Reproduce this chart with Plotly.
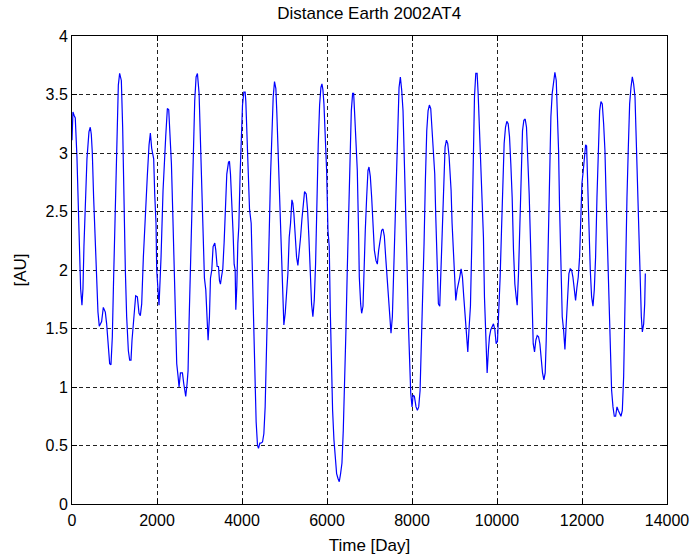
import plotly.graph_objects as go

days = [0, 22, 50, 77, 116, 140, 179, 203, 234, 258, 281, 313, 352, 399, 430, 454, 478, 509, 540, 572,
        611, 642, 697, 737, 784, 815, 847, 886, 917, 949, 980, 1019, 1059, 1090, 1121, 1161, 1192, 1223, 1255, 1286,
        1326, 1357, 1388, 1412, 1451, 1498, 1538, 1577, 1608, 1640, 1679, 1726, 1773, 1813, 1844, 1875, 1922, 1946, 1977, 1993,
        2024, 2048, 2095, 2142, 2205, 2244, 2276, 2299, 2339, 2370, 2401, 2433, 2464, 2496, 2519, 2551, 2598, 2629, 2676, 2708,
        2731, 2755, 2794, 2826, 2857, 2888, 2920, 2951, 2990, 3022, 3053, 3085, 3116, 3148, 3179, 3202, 3234, 3258, 3289, 3320,
        3360, 3383, 3415, 3446, 3470, 3493, 3517, 3548, 3580, 3611, 3642, 3682, 3705, 3729, 3760, 3791, 3815, 3839, 3854, 3878,
        3902, 3925, 3956, 3988, 4012, 4043, 4074, 4090, 4114, 4145, 4177, 4216, 4239, 4271, 4302, 4333, 4365, 4388, 4420, 4443,
        4483, 4514, 4545, 4577, 4608, 4640, 4671, 4703, 4734, 4765, 4797, 4820, 4852, 4883, 4922, 4954, 4985, 5017, 5048, 5080,
        5111, 5142, 5174, 5197, 5221, 5252, 5284, 5315, 5346, 5378, 5409, 5441, 5472, 5511, 5543, 5574, 5606, 5637, 5668, 5700,
        5731, 5763, 5794, 5826, 5857, 5881, 5904, 5928, 5959, 5991, 6022, 6053, 6077, 6101, 6132, 6163, 6195, 6226, 6257, 6289,
        6320, 6352, 6383, 6415, 6446, 6477, 6509, 6540, 6572, 6603, 6627, 6650, 6682, 6713, 6745, 6760, 6792, 6815, 6847, 6870,
        6901, 6933, 6964, 6988, 7019, 7051, 7082, 7114, 7153, 7184, 7216, 7247, 7286, 7318, 7349, 7381, 7412, 7443, 7475, 7506,
        7538, 7569, 7600, 7632, 7663, 7695, 7726, 7757, 7789, 7820, 7852, 7883, 7915, 7938, 7970, 8001, 8025, 8056, 8095, 8127,
        8158, 8190, 8221, 8252, 8284, 8315, 8347, 8378, 8409, 8441, 8472, 8504, 8535, 8559, 8590, 8621, 8653, 8684, 8716, 8747,
        8778, 8810, 8841, 8873, 8904, 8920, 8943, 8967, 8983, 8998, 9030, 9061, 9093, 9124, 9155, 9187, 9218, 9250, 9281, 9313,
        9344, 9375, 9407, 9438, 9470, 9501, 9532, 9556, 9587, 9619, 9650, 9681, 9705, 9737, 9768, 9799, 9823, 9854, 9886, 9917,
        9949, 9980, 10011, 10043, 10074, 10106, 10137, 10168, 10200, 10231, 10263, 10294, 10325, 10357, 10388, 10420, 10451, 10475, 10506, 10538,
        10569, 10600, 10632, 10663, 10694, 10726, 10757, 10789, 10820, 10852, 10883, 10914, 10946, 10977, 11009, 11040, 11071, 11103, 11134, 11158,
        11189, 11213, 11236, 11268, 11299, 11331, 11362, 11394, 11425, 11449, 11472, 11503, 11535, 11566, 11598, 11629, 11661, 11692, 11723, 11755,
        11786, 11818, 11849, 11880, 11912, 11943, 11967, 11998, 12030, 12053, 12085, 12108, 12132, 12163, 12195, 12226, 12258, 12289, 12320, 12352,
        12383, 12415, 12446, 12477, 12509, 12540, 12571, 12603, 12634, 12666, 12697, 12729, 12760, 12791, 12823, 12854, 12886, 12917, 12949, 12980,
        13003, 13027, 13058, 13090, 13121, 13152, 13184, 13215, 13247, 13270, 13302, 13333, 13365, 13396, 13420, 13451, 13475, 13490]

distance_au = [3.11, 3.35, 3.32, 3.30, 2.97, 2.60, 2.20, 1.84, 1.70, 1.84, 2.20, 2.60, 2.95, 3.18, 3.22, 3.16, 3.00, 2.62, 2.27, 1.94,
               1.64, 1.52, 1.56, 1.68, 1.64, 1.54, 1.39, 1.20, 1.19, 1.43, 1.94, 2.62, 3.24, 3.58, 3.68, 3.62, 3.22, 2.55, 2.00, 1.60,
               1.31, 1.23, 1.23, 1.40, 1.60, 1.78, 1.77, 1.63, 1.61, 1.71, 2.11, 2.50, 2.81, 3.07, 3.17, 3.04, 2.95, 2.65, 2.40, 2.00,
               1.80, 1.70, 2.11, 2.68, 3.14, 3.38, 3.37, 3.22, 2.91, 2.50, 2.10, 1.69, 1.20, 1.09, 1.00, 1.12, 1.12, 1.03, 0.92, 1.03,
               1.14, 1.56, 2.08, 2.60, 3.08, 3.45, 3.65, 3.68, 3.51, 3.14, 2.78, 2.31, 1.93, 1.83, 1.54, 1.40, 1.60, 1.93, 2.00, 2.20,
               2.23, 2.17, 2.03, 2.03, 1.91, 1.88, 1.94, 2.01, 2.24, 2.51, 2.82, 2.92, 2.93, 2.82, 2.62, 2.31, 2.05, 2.00, 1.66, 1.86,
               2.23, 2.37, 2.82, 3.19, 3.41, 3.52, 3.52, 3.44, 3.22, 2.91, 2.52, 2.40, 2.06, 1.41, 0.97, 0.70, 0.50, 0.475, 0.52, 0.52,
               0.53, 0.60, 0.83, 1.26, 1.71, 2.31, 2.80, 3.21, 3.48, 3.61, 3.55, 3.34, 2.99, 2.54, 2.08, 1.71, 1.53, 1.63, 1.77, 1.97,
               2.28, 2.40, 2.60, 2.57, 2.48, 2.28, 2.11, 2.04, 2.14, 2.28, 2.43, 2.57, 2.67, 2.65, 2.51, 2.28, 1.94, 1.71, 1.60, 1.74,
               2.05, 2.62, 3.08, 3.41, 3.56, 3.59, 3.54, 3.42, 3.19, 2.85, 2.34, 2.20, 1.66, 1.20, 0.80, 0.55, 0.35, 0.26, 0.22, 0.19,
               0.26, 0.35, 0.63, 1.00, 1.49, 2.00, 2.51, 2.97, 3.36, 3.51, 3.51, 3.34, 3.14, 2.85, 2.28, 1.94, 1.71, 1.63, 1.69, 2.05,
               2.34, 2.62, 2.85, 2.88, 2.80, 2.62, 2.37, 2.17, 2.08, 2.05, 2.17, 2.25, 2.34, 2.35, 2.29, 2.11, 1.94, 1.71, 1.60, 1.46,
               1.60, 2.00, 2.40, 2.91, 3.31, 3.56, 3.65, 3.54, 3.36, 2.99, 2.57, 2.05, 1.54, 1.20, 0.95, 0.83, 0.93, 0.92, 0.83, 0.80,
               0.83, 0.97, 1.34, 1.77, 2.23, 2.77, 3.19, 3.36, 3.41, 3.38, 3.22, 2.99, 2.82, 2.46, 2.05, 1.71, 1.69, 2.03, 2.34, 2.71,
               3.05, 3.11, 3.08, 2.97, 2.80, 2.68, 2.40, 2.20, 2.08, 1.91, 1.74, 1.83, 1.88, 1.94, 2.01, 1.94, 1.77, 1.63, 1.49, 1.30,
               1.51, 1.69, 2.23, 2.88, 3.48, 3.68, 3.68, 3.51, 3.22, 2.88, 2.62, 2.28, 1.77, 1.32, 1.12, 1.32, 1.43, 1.49, 1.51, 1.54,
               1.49, 1.37, 1.39, 1.63, 1.94, 2.34, 2.77, 3.08, 3.22, 3.27, 3.25, 3.14, 2.91, 2.62, 2.17, 1.88, 1.77, 1.70, 1.97, 2.40,
               2.80, 3.19, 3.28, 3.29, 3.22, 2.99, 2.65, 2.23, 1.71, 1.37, 1.30, 1.40, 1.44, 1.43, 1.37, 1.20, 1.12, 1.06, 1.12, 1.40,
               1.88, 2.40, 2.85, 3.31, 3.51, 3.62, 3.69, 3.62, 3.36, 3.02, 2.54, 2.05, 1.60, 1.49, 1.32, 1.54, 1.80, 1.97, 2.01, 2.00,
               1.94, 1.80, 1.74, 1.85, 1.94, 2.11, 2.40, 2.74, 2.85, 2.97, 3.07, 3.06, 2.74, 2.28, 2.00, 1.77, 1.69, 1.83, 2.11, 2.62,
               3.02, 3.36, 3.44, 3.42, 3.25, 3.02, 2.57, 2.11, 1.71, 1.26, 0.97, 0.83, 0.75, 0.75, 0.83, 0.80, 0.78, 0.75, 0.80, 1.09,
               1.54, 2.08, 2.62, 3.05, 3.42, 3.56, 3.65, 3.59, 3.48, 3.19, 2.77, 2.31, 1.91, 1.60, 1.47, 1.54, 1.71, 1.97]

x_ticks = [0, 2000, 4000, 6000, 8000, 10000, 12000, 14000]
x_tick_labels = ["0", "2000", "4000", "6000", "8000", "10000", "12000", "14000"]
y_ticks = [0, 0.5, 1, 1.5, 2, 2.5, 3, 3.5, 4]
y_tick_labels = ["0", "0.5", "1", "1.5", "2", "2.5", "3", "3.5", "4"]

FONT = "Liberation Sans, Arial, sans-serif"

fig = go.Figure()
fig.add_trace(go.Scatter(x=days, y=distance_au, mode="lines",
                         line=dict(color="#0000FF", width=1.2), showlegend=False))

axis_common = dict(showline=True, linecolor="black", linewidth=1, mirror="ticks",
                   ticks="inside", ticklen=5, tickcolor="black", automargin=False,
                   showgrid=True, gridcolor="#222222", gridwidth=1, griddash="4px,3px",
                   zeroline=False, tickfont=dict(family=FONT, size=16, color="black"))

fig.update_layout(
    width=694, height=560,
    margin=dict(l=72, r=27, t=36, b=56),
    paper_bgcolor="white", plot_bgcolor="white",
    title=dict(text="Distance Earth 2002AT4", x=0.532, xanchor="center", y=0.976, yanchor="middle",
               font=dict(family=FONT, size=17, color="black")),
    xaxis=dict(range=[0, 14000], tickvals=x_ticks, ticktext=x_tick_labels,
               ticklabelstandoff=2,
               title=dict(text="Time [Day]", font=dict(family=FONT, size=17, color="black"), standoff=10),
               **axis_common),
    yaxis=dict(range=[0, 4], tickvals=y_ticks, ticktext=y_tick_labels,
               title=dict(text="[AU]", font=dict(family=FONT, size=17, color="black"), standoff=14),
               **axis_common),
)

fig.write_html("out.html")
